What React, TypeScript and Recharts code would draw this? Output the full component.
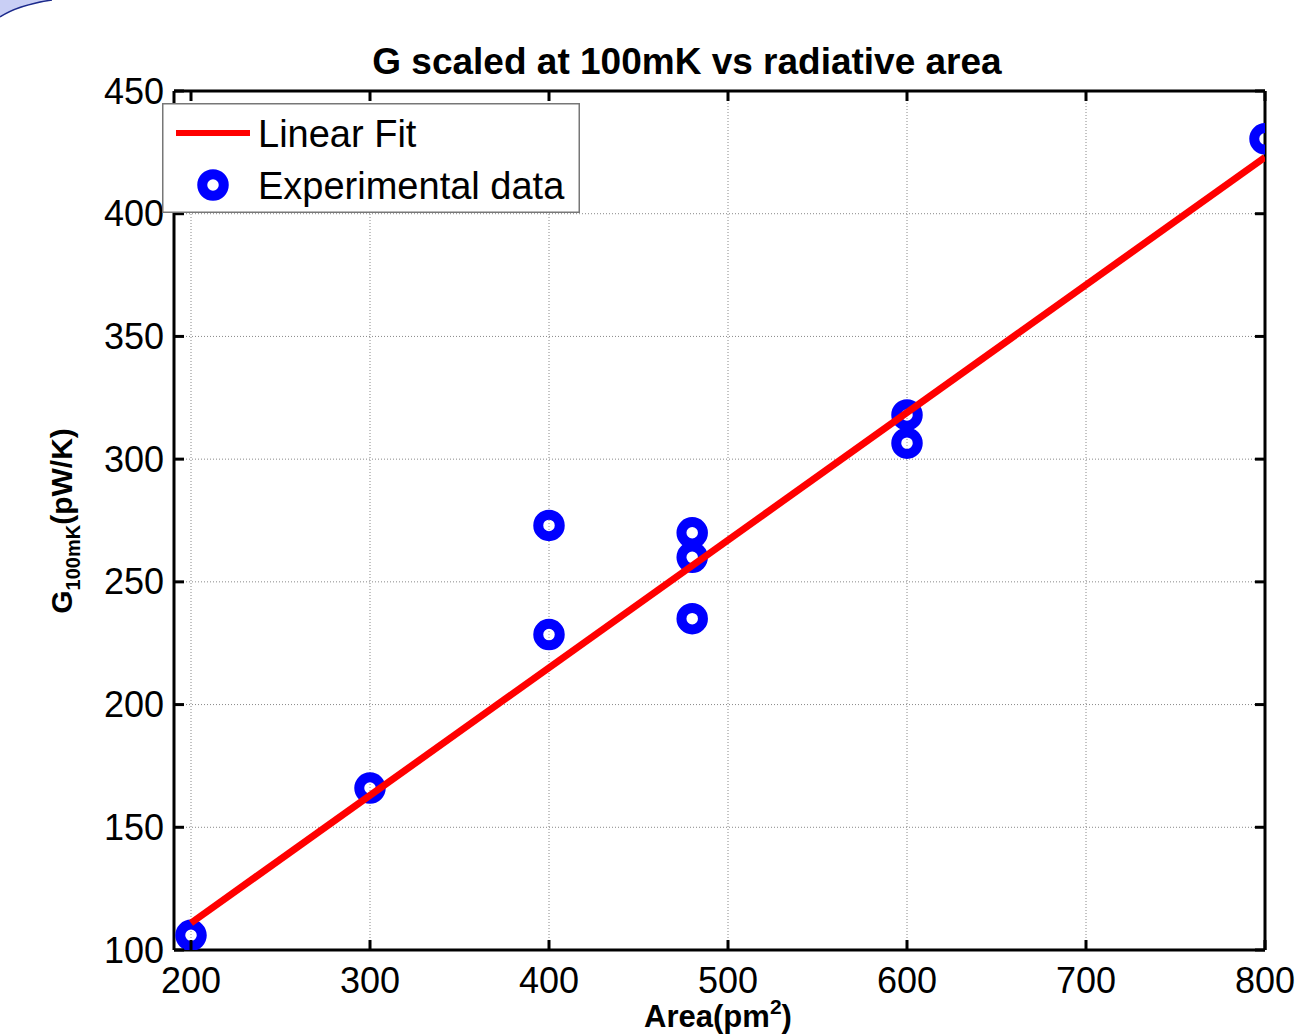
import { ScatterChart, Scatter, XAxis, YAxis, CartesianGrid, Legend } from 'recharts'

const areas = [200, 300, 400, 400, 480, 480, 480, 600, 600, 800]
const gValues = [106, 166, 273, 228.5, 270, 260, 235, 318, 306.5, 430.5]
const fitAreas = [200, 800]
const fitValues = [111, 423]
const xTicks = [200, 300, 400, 500, 600, 700, 800]
const yTicks = [100, 150, 200, 250, 300, 350, 400, 450]
const seriesNames = ['Experimental data', 'Linear Fit']
const legendOrder = ['Linear Fit', 'Experimental data']

const FONT = '"Liberation Sans", Arial, Helvetica, sans-serif'

const experimental = areas.map((a, i) => ({ area: a, g: gValues[i] }))
const fit = fitAreas.map((a, i) => ({ area: a, g: fitValues[i] }))

function Ring(props: any) {
  return <circle cx={props.cx} cy={props.cy} r={10.75} fill="none" stroke="#0000ff" strokeWidth={10} />
}

function BottomTick({ x, y, payload }: any) {
  return (
    <g>
      <line x1={x} y1={y} x2={x} y2={y - 10} stroke="#000" strokeWidth={3} />
      <text x={x} y={y + 43} textAnchor="middle" fontSize={36} fontFamily={FONT} fill="#000">
        {payload.value}
      </text>
    </g>
  )
}

function TopTick({ x, y }: any) {
  return <line x1={x} y1={y} x2={x} y2={y + 10} stroke="#000" strokeWidth={3} />
}

function LeftTick({ x, y, payload }: any) {
  return (
    <g>
      <line x1={x} y1={y} x2={x + 10} y2={y} stroke="#000" strokeWidth={3} />
      <text x={x - 10} y={y + 12.5} textAnchor="end" fontSize={36} fontFamily={FONT} fill="#000">
        {payload.value}
      </text>
    </g>
  )
}

function RightTick({ x, y }: any) {
  return <line x1={x} y1={y} x2={x - 10} y2={y} stroke="#000" strokeWidth={3} />
}

function LegendBox({ payload }: any) {
  const items = (payload || [])
    .filter((e: any) => legendOrder.includes(e.value))
    .sort((a: any, b: any) => legendOrder.indexOf(a.value) - legendOrder.indexOf(b.value))
  return (
    <svg width={418} height={110} style={{ display: 'block' }}>
      <rect x={0.75} y={0.75} width={416.5} height={108.5} fill="#fff" stroke="#777" strokeWidth={1.5} />
      {items.map((entry: any, i: number) => {
        const cy = 30 + i * 52
        return (
          <g key={entry.value}>
            {entry.type === 'line' ? (
              <line x1={14} y1={cy} x2={88} y2={cy} stroke="#ff0000" strokeWidth={6} />
            ) : (
              <circle cx={51} cy={cy} r={10.75} fill="none" stroke="#0000ff" strokeWidth={10} />
            )}
            <text x={96} y={cy + 14} fontSize={38} fontFamily={FONT} fill="#000">
              {entry.value}
            </text>
          </g>
        )
      })}
    </svg>
  )
}

function YLabel() {
  return (
    <text
      transform="translate(72, 521) rotate(-90)"
      textAnchor="middle"
      fontFamily={FONT}
      fontWeight="bold"
      fontSize={30}
      fill="#000"
    >
      G
      <tspan fontSize={20} dy={8}>100mK</tspan>
      <tspan dy={-8}>(pW/K)</tspan>
    </text>
  )
}

function XLabel() {
  return (
    <text x={718} y={1027} textAnchor="middle" fontFamily={FONT} fontWeight="bold" fontSize={31} fill="#000">
      Area(pm
      <tspan fontSize={21} dy={-13}>2</tspan>
      <tspan dy={13}>)</tspan>
    </text>
  )
}

export default function App() {
  return (
    <div style={{ position: 'absolute', left: 0, top: 0, width: 1296, height: 1035, background: '#fff' }}>
      <svg width={60} height={20} style={{ position: 'absolute', left: 0, top: 0 }}>
        <path d="M0,0 L52,0 Q18,5 0,17 Z" fill="#c9cff5" />
        <path d="M52,0 Q18,5 0,17" fill="none" stroke="#1c2a8c" strokeWidth={1.5} />
      </svg>
      <ScatterChart width={1296} height={1035} margin={{ top: 90, right: 30, bottom: 0, left: 0 }}>
        <CartesianGrid stroke="#888" strokeDasharray="1 2" strokeWidth={1} />
        <XAxis
          type="number"
          dataKey="area"
          domain={[190.5, 800]}
          ticks={xTicks}
          allowDataOverflow
          height={85}
          tickSize={0}
          tickMargin={0}
          tick={BottomTick}
          tickLine={false}
          axisLine={{ stroke: '#000', strokeWidth: 3 }}
          label={<XLabel />}
        />
        <XAxis
          xAxisId="top"
          orientation="top"
          type="number"
          dataKey="area"
          domain={[190.5, 800]}
          ticks={xTicks}
          allowDataOverflow
          height={1}
          tickSize={0}
          tickMargin={0}
          tick={TopTick}
          tickLine={false}
          axisLine={{ stroke: '#000', strokeWidth: 3 }}
        />
        <YAxis
          type="number"
          dataKey="g"
          domain={[100, 450]}
          ticks={yTicks}
          allowDataOverflow
          width={174}
          tickSize={0}
          tickMargin={0}
          tick={LeftTick}
          tickLine={false}
          axisLine={{ stroke: '#000', strokeWidth: 3 }}
          label={<YLabel />}
        />
        <YAxis
          yAxisId="right"
          orientation="right"
          type="number"
          dataKey="g"
          domain={[100, 450]}
          ticks={yTicks}
          allowDataOverflow
          width={1}
          tickSize={0}
          tickMargin={0}
          tick={RightTick}
          tickLine={false}
          axisLine={{ stroke: '#000', strokeWidth: 3 }}
        />
        <Legend
          layout="vertical"
          align="center"
          verticalAlign="middle"
          content={LegendBox}
          wrapperStyle={{ left: 162, top: 103, width: 418, height: 110 }}
        />
        <Scatter
          name={seriesNames[0]}
          data={experimental}
          shape={Ring}
          legendType="circle"
          isAnimationActive={false}
        />
        <Scatter
          name={seriesNames[1]}
          data={fit}
          shape={() => <g />}
          line={{ stroke: '#ff0000', strokeWidth: 7 }}
          legendType="line"
          isAnimationActive={false}
        />
        <Scatter
          xAxisId="top"
          yAxisId="right"
          data={fit}
          shape={() => <g />}
          legendType="none"
          isAnimationActive={false}
        />
        <text x={687} y={74} textAnchor="middle" fontFamily={FONT} fontWeight="bold" fontSize={37} fill="#000">
          G scaled at 100mK vs radiative area
        </text>
      </ScatterChart>
    </div>
  )
}
